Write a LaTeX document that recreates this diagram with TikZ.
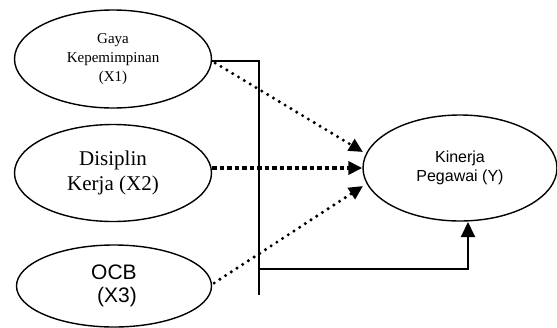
\documentclass[tikz,border=0pt]{standalone}
\usepackage{fontspec}
\setmainfont{Liberation Serif}
\newfontfamily\arialf{Liberation Sans}
\usetikzlibrary{shapes.geometric,arrows.meta,calc}
\begin{document}
\begin{tikzpicture}[x=1pt,y=-1pt,
  oval/.style={draw,ellipse,line width=1.4pt,inner sep=0pt,align=center},
  solidline/.style={line width=1.6pt},
  dotarrow/.style={line width=3.4pt,line cap=round,dash pattern=on 0pt off 6.8pt,
    -{Triangle[length=14pt,width=13pt]}},
  dasharrow/.style={line width=3.8pt,dash pattern=on 4.5pt off 3pt,
    -{Triangle[length=14pt,width=13pt]}},
  tiparrow/.style={line width=2pt,-{Triangle[length=15pt,width=14pt]}}]
\useasboundingbox (0,0) rectangle (557,327);
\node[oval,minimum width=197pt,minimum height=98pt,font=\fontsize{15}{19}\selectfont] (x1) at (113,59) {Gaya\\Kepemimpinan\\(X1)};
\node[oval,minimum width=197pt,minimum height=97pt,font=\fontsize{21}{24.5}\selectfont] (x2) at (113,173) {Disiplin\\Kerja (X2)};
\node[oval,minimum width=195pt,minimum height=82pt,font=\arialf\fontsize{21}{23.5}\selectfont] (x3) at (114,286) {OCB\\\ (X3)};
\node[oval,minimum width=194pt,minimum height=106pt,font=\arialf\fontsize{16}{19}\selectfont] (y) at (460,168) {Kinerja\\Pegawai (Y)};
\coordinate (vtop) at (259,61);
\coordinate (vbot) at (259,295);
\coordinate (hb) at (259,269);
\coordinate (corner) at (468,269);
\coordinate (t1) at (363,152);
\coordinate (t3) at (363,186);
\coordinate (t4) at (468,222);
\draw[solidline] (x1.east |- vtop) -- (vtop) -- (vbot);
\draw[tiparrow] (hb) -- (corner) -- (t4);
\draw[dotarrow] ($(x1.east)+(3,4)$) -- (t1);
\draw[dasharrow] (x2.east |- 0,168) -- (y.west);
\draw[dotarrow] ($(x3.east)+(2,-3)$) -- (t3);
\end{tikzpicture}
\end{document}
